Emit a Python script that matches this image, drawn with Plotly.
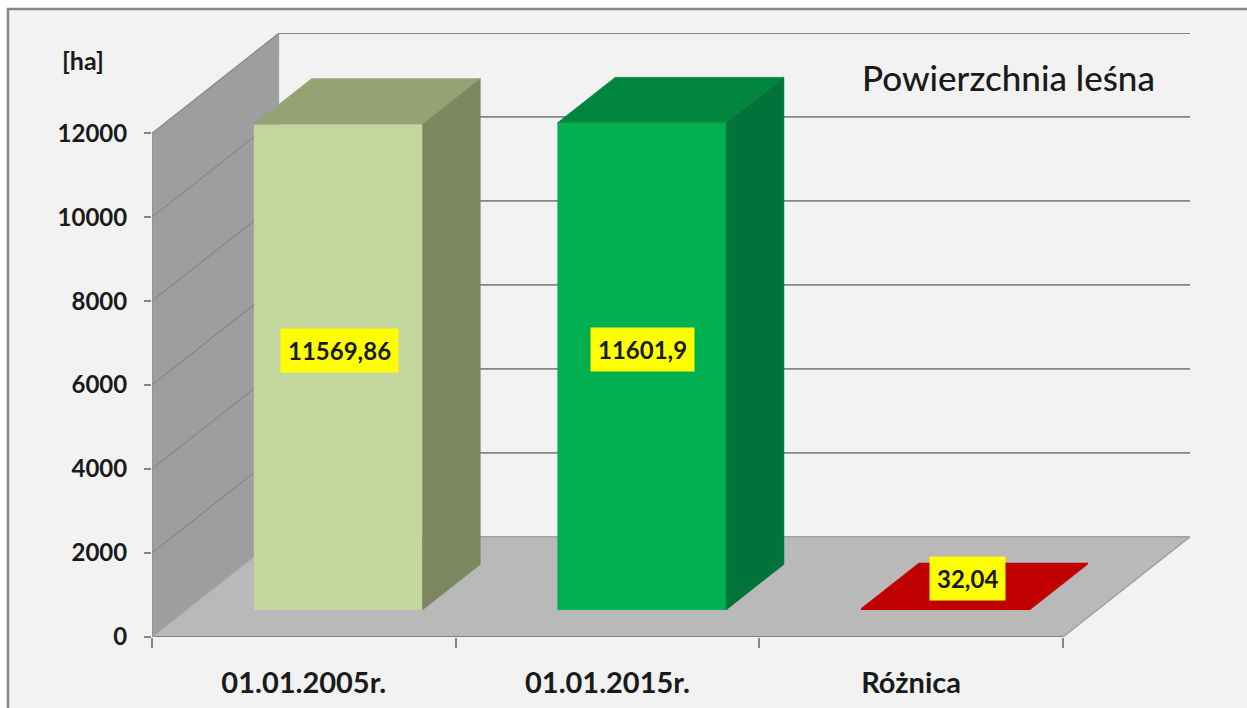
import plotly.graph_objects as go

categories = ["01.01.2005r.", "01.01.2015r.", "Różnica"]
values = [11569.86, 11601.9, 32.04]
value_labels = ["11569,86", "11601,9", "32,04"]
front_colors = ["#C3D69B", "#00B050", "#C80000"]
top_colors = ["#95A274", "#00853D", "#C00000"]
side_colors = ["#7B875E", "#00733A", "#C00000"]
y_ticks = [0, 2000, 4000, 6000, 8000, 10000, 12000]
y_max = 12000

FONT = "Lato"
INK = "#1a1a1a"
W, H = 1247, 708
L, R, T, B = 152, 1190, 33, 637          # plot area in the page
N = len(categories)
DX = 127 / ((1062 - 152) / N)             # depth shift, in category units
DY = 100 / ((B - 134) / y_max)            # depth shift, in value units
GAP = 0.2222
BW = 1 - 2 * GAP
D0, D1 = 0.27, 0.725                      # bar depth within the floor


def proj(c, v, d):
    return c + d * DX, v + d * DY


def px(x):
    return (x - L) / (R - L)


def py(y):
    return (B - y) / (B - T)


def poly(points, color, name):
    xs, ys = zip(*[proj(*p) for p in points + points[:1]])
    return go.Scatter(x=xs, y=ys, mode="lines", fill="toself", fillcolor=color,
                      line=dict(color=color, width=0.5), hoverinfo="skip",
                      showlegend=False, name=name)


def seg(a, b, color, width=1.5):
    (x0, y0), (x1, y1) = proj(*a), proj(*b)
    return dict(type="line", layer="below", xref="x", yref="y", x0=x0, y0=y0, x1=x1, y1=y1,
                line=dict(color=color, width=width))


def area(points, color):
    path = "M " + " L ".join("%f,%f" % proj(*p) for p in points) + " Z"
    return dict(type="path", layer="below", xref="x", yref="y", path=path,
                fillcolor=color, line=dict(width=0))


shapes = [dict(type="rect", layer="below", xref="paper", yref="paper",
               x0=px(8), x1=px(W + 10), y0=py(9), y1=py(H + 10),
               fillcolor="#F2F2F2", line=dict(color="#868686", width=2.5))]
shapes.append(area([(0, 0, 0), (0, 0, 1), (0, y_max, 1), (0, y_max, 0)], "#9E9E9E"))
shapes.append(area([(0, 0, 0), (N, 0, 0), (N, 0, 1), (0, 0, 1)], "#B9B9B9"))
for t in y_ticks[1:]:
    shapes.append(seg((0, t, 0), (0, t, 1), "#868686", 1.2))
    shapes.append(seg((0, t, 1), (N, t, 1), "#868686", 1.8))
shapes.append(seg((0, 0, 0), (0, y_max, 0), "#8C8C8C", 1.2))
shapes.append(seg((0, 0, 1), (N, 0, 1), "#A0A0A0", 1.5))
shapes.append(seg((N, 0, 0), (N, 0, 1), "#A0A0A0", 1.5))
shapes.append(seg((0, 0, 0), (N, 0, 0), "#808080", 1.8))
shapes.append(seg((0, 0, 0), (0, 0, 1), "#A0A0A0", 1))

fig = go.Figure()
fig.add_trace(go.Bar(
    x=[i + 0.5 + D0 * DX for i in range(N)], y=values, base=[D0 * DY] * N, width=BW,
    marker=dict(color=front_colors, line=dict(width=0)), showlegend=False,
    customdata=categories, hovertemplate="%{customdata}: %{y}<extra></extra>"))
for i, v in enumerate(values):
    a, b = i + GAP, i + GAP + BW
    fig.add_trace(poly([(a, v, D0), (b, v, D0), (b, v, D1), (a, v, D1)], top_colors[i], categories[i]))
    fig.add_trace(poly([(b, 0, D0), (b, v, D0), (b, v, D1), (b, 0, D1)], side_colors[i], categories[i]))

annotations = []
label_shift = [(1, 17), (1, 17), (22, 31)]
for i, v in enumerate(values):
    x, y = proj(i + 0.5, v / 2, D0)
    annotations.append(dict(x=x, y=y, xref="x", yref="y", text="<b>%s</b>" % value_labels[i],
                            showarrow=False, xshift=label_shift[i][0], yshift=label_shift[i][1],
                            bgcolor="#FFFF00", borderpad=7,
                            font=dict(family=FONT, size=24, color=INK)))
annotations.append(dict(x=px(83), y=py(60), xref="paper", yref="paper", text="<b>[ha]</b>",
                        xanchor="center", yanchor="middle",
                        showarrow=False, font=dict(family=FONT, size=25, color=INK)))
annotations.append(dict(x=px(1008), y=py(77), xref="paper", yref="paper", text="Powierzchnia leśna",
                        xanchor="center", yanchor="middle",
                        showarrow=False, font=dict(family=FONT, size=35, color=INK, weight=500)))

fig.update_layout(
    width=W, height=H, autosize=False,
    margin=dict(l=L, r=W - R, t=T, b=H - B),
    paper_bgcolor="#FFFFFF", plot_bgcolor="rgba(0,0,0,0)",
    barmode="overlay", showlegend=False, shapes=shapes, annotations=annotations,
    xaxis=dict(range=[0, N + DX], showgrid=False, zeroline=False, showline=False, automargin=False,
               tickmode="array", tickvals=[i + 0.5 for i in range(N)], ticktext=categories,
               ticks="", ticklabelstandoff=26,
               tickfont=dict(family=FONT, size=29, color=INK, weight="bold"),
               minor=dict(tickmode="array", tickvals=list(range(N + 1)), ticks="outside",
                          ticklen=10, tickwidth=1.5, tickcolor="#868686")),
    yaxis=dict(range=[0, y_max + DY], showgrid=False, zeroline=False, showline=False, automargin=False,
               tickmode="array", tickvals=y_ticks, ticktext=[str(t) for t in y_ticks],
               ticks="outside", ticklen=7, tickwidth=1.5, tickcolor="#868686",
               ticklabelstandoff=12,
               tickfont=dict(family=FONT, size=24, color=INK, weight="bold")),
)
fig.write_html("out.html", config=dict(displayModeBar=False),
               post_script="document.body.style.margin='0';document.body.style.overflow='hidden';")
